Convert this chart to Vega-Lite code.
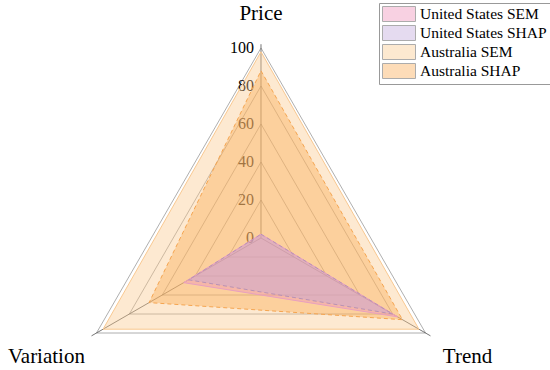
{
  "$schema": "https://vega.github.io/schema/vega-lite/v6.json",
  "width": 550,
  "height": 370,
  "autosize": {"type": "none"},
  "padding": 0,
  "config": {"view": {"stroke": null}, "font": "Liberation Serif"},
  "datasets": {
    "series": [
      {"series": "Australia SEM", "axis": "Price", "idx": 0, "value": 98},
      {"series": "Australia SEM", "axis": "Trend", "idx": 1, "value": 96},
      {"series": "Australia SEM", "axis": "Variation", "idx": 2, "value": 96},
      {"series": "Australia SHAP", "axis": "Price", "idx": 0, "value": 88},
      {"series": "Australia SHAP", "axis": "Trend", "idx": 1, "value": 86},
      {"series": "Australia SHAP", "axis": "Variation", "idx": 2, "value": 68},
      {"series": "United States SEM", "axis": "Price", "idx": 0, "value": 2},
      {"series": "United States SEM", "axis": "Trend", "idx": 1, "value": 83},
      {"series": "United States SEM", "axis": "Variation", "idx": 2, "value": 47},
      {"series": "United States SHAP", "axis": "Price", "idx": 0, "value": 2},
      {"series": "United States SHAP", "axis": "Trend", "idx": 1, "value": 80},
      {"series": "United States SHAP", "axis": "Variation", "idx": 2, "value": 44}
    ],
    "grid": [
      {"level": 20, "idx": 0}, {"level": 20, "idx": 1}, {"level": 20, "idx": 2},
      {"level": 40, "idx": 0}, {"level": 40, "idx": 1}, {"level": 40, "idx": 2},
      {"level": 60, "idx": 0}, {"level": 60, "idx": 1}, {"level": 60, "idx": 2},
      {"level": 80, "idx": 0}, {"level": 80, "idx": 1}, {"level": 80, "idx": 2},
      {"level": 100, "idx": 0}, {"level": 100, "idx": 1}, {"level": 100, "idx": 2}
    ],
    "axes": [
      {"axis": "Price", "idx": 0, "end": 102},
      {"axis": "Trend", "idx": 1, "end": 103},
      {"axis": "Variation", "idx": 2, "end": 103}
    ],
    "ticks": [
      {"tick": 0}, {"tick": 20}, {"tick": 40}, {"tick": 60}, {"tick": 80}, {"tick": 100}
    ]
  },
  "encoding": {
    "x": {"field": "px", "type": "quantitative", "scale": {"domain": [-137.37, 152.11], "nice": false, "zero": false}, "axis": null},
    "y": {"field": "py", "type": "quantitative", "scale": {"domain": [-69.47, 125.26], "nice": false, "zero": false}, "axis": null}
  },
  "layer": [
    {
      "data": {"name": "grid"},
      "transform": [
        {"calculate": "PI/2 - datum.idx*2*PI/3", "as": "ang"},
        {"calculate": "datum.level*cos(datum.ang)", "as": "px"},
        {"calculate": "datum.level*sin(datum.ang)", "as": "py"}
      ],
      "mark": {"type": "line", "interpolate": "linear-closed", "stroke": "#9a9a9a", "strokeWidth": 0.8},
      "encoding": {
        "detail": {"field": "level", "type": "nominal"},
        "order": {"field": "idx", "type": "quantitative"}
      }
    },
    {
      "data": {"name": "axes"},
      "transform": [
        {"calculate": "PI/2 - datum.idx*2*PI/3", "as": "ang"},
        {"calculate": "0", "as": "px"},
        {"calculate": "0", "as": "py"},
        {"calculate": "datum.end*cos(datum.ang)", "as": "px2"},
        {"calculate": "datum.end*sin(datum.ang)", "as": "py2"}
      ],
      "mark": {"type": "rule", "stroke": "#666", "strokeWidth": 0.9},
      "encoding": {
        "x2": {"field": "px2"},
        "y2": {"field": "py2"}
      }
    },
    {
      "data": {"name": "ticks"},
      "transform": [
        {"calculate": "0", "as": "px"},
        {"calculate": "datum.tick", "as": "py"}
      ],
      "mark": {"type": "text", "align": "right", "baseline": "middle", "dx": -7, "fontSize": 16, "font": "Liberation Serif", "color": "black"},
      "encoding": {
        "text": {"field": "tick", "type": "quantitative"}
      }
    },
    {
      "data": {"name": "series"},
      "transform": [
        {"calculate": "PI/2 - datum.idx*2*PI/3", "as": "ang"},
        {"calculate": "datum.value*cos(datum.ang)", "as": "px"},
        {"calculate": "datum.value*sin(datum.ang)", "as": "py"}
      ],
      "mark": {"type": "line", "interpolate": "linear-closed", "fillOpacity": 0.4, "strokeOpacity": 0},
      "encoding": {
        "fill": {
          "field": "series", "type": "nominal",
          "scale": {"domain": ["United States SEM", "United States SHAP", "Australia SEM", "Australia SHAP"], "range": ["#ee8fb8", "#c0a8da", "#fbc98c", "#fba94f"]},
          "legend": {
            "orient": "none", "legendX": 379, "legendY": 3, "title": null,
            "labelFont": "Liberation Serif", "labelFontSize": 15.5, "labelColor": "black", "labelLimit": 200,
            "symbolType": "M-1,-1H3.4V1H-1Z", "symbolSize": 225, "labelOffset": 22,
            "symbolOpacity": 0.4, "symbolStrokeColor": "#333", "symbolStrokeWidth": 1,
            "strokeColor": "#999", "fillColor": "white", "padding": 3, "rowPadding": -1
          }
        },
        "order": {"field": "idx", "type": "quantitative"}
      }
    },
    {
      "data": {"name": "series"},
      "transform": [
        {"filter": "datum.series === 'Australia SEM'"},
        {"calculate": "PI/2 - datum.idx*2*PI/3", "as": "ang"},
        {"calculate": "datum.value*cos(datum.ang)", "as": "px"},
        {"calculate": "datum.value*sin(datum.ang)", "as": "py"}
      ],
      "mark": {"type": "line", "interpolate": "linear-closed", "strokeWidth": 1, "stroke": "#f9c890"},
      "encoding": {"order": {"field": "idx", "type": "quantitative"}}
    },
    {
      "data": {"name": "series"},
      "transform": [
        {"filter": "datum.series === 'Australia SHAP'"},
        {"calculate": "PI/2 - datum.idx*2*PI/3", "as": "ang"},
        {"calculate": "datum.value*cos(datum.ang)", "as": "px"},
        {"calculate": "datum.value*sin(datum.ang)", "as": "py"}
      ],
      "mark": {"type": "line", "interpolate": "linear-closed", "strokeWidth": 1, "stroke": "#f5a550", "strokeDash": [4, 3]},
      "encoding": {"order": {"field": "idx", "type": "quantitative"}}
    },
    {
      "data": {"name": "series"},
      "transform": [
        {"filter": "datum.series === 'United States SEM'"},
        {"calculate": "PI/2 - datum.idx*2*PI/3", "as": "ang"},
        {"calculate": "datum.value*cos(datum.ang)", "as": "px"},
        {"calculate": "datum.value*sin(datum.ang)", "as": "py"}
      ],
      "mark": {"type": "line", "interpolate": "linear-closed", "strokeWidth": 1, "stroke": "#e8a0c0"},
      "encoding": {"order": {"field": "idx", "type": "quantitative"}}
    },
    {
      "data": {"name": "series"},
      "transform": [
        {"filter": "datum.series === 'United States SHAP'"},
        {"calculate": "PI/2 - datum.idx*2*PI/3", "as": "ang"},
        {"calculate": "datum.value*cos(datum.ang)", "as": "px"},
        {"calculate": "datum.value*sin(datum.ang)", "as": "py"}
      ],
      "mark": {"type": "line", "interpolate": "linear-closed", "strokeWidth": 1, "stroke": "#b892b5", "strokeDash": [4, 3]},
      "encoding": {"order": {"field": "idx", "type": "quantitative"}}
    },
    {
      "data": {"values": [{"axis": "Price", "px": 0, "py": 100}]},
      "mark": {"type": "text", "align": "center", "baseline": "middle", "dy": -34, "fontSize": 21, "font": "Liberation Serif", "color": "black"},
      "encoding": {"text": {"field": "axis"}}
    },
    {
      "data": {"values": [{"axis": "Variation", "idx": 2}]},
      "transform": [
        {"calculate": "PI/2 - datum.idx*2*PI/3", "as": "ang"},
        {"calculate": "100*cos(datum.ang)", "as": "px"},
        {"calculate": "100*sin(datum.ang)", "as": "py"}
      ],
      "mark": {"type": "text", "align": "center", "baseline": "middle", "dx": -50, "dy": 24, "fontSize": 21, "font": "Liberation Serif", "color": "black"},
      "encoding": {"text": {"field": "axis"}}
    },
    {
      "data": {"values": [{"axis": "Trend", "idx": 1}]},
      "transform": [
        {"calculate": "PI/2 - datum.idx*2*PI/3", "as": "ang"},
        {"calculate": "100*cos(datum.ang)", "as": "px"},
        {"calculate": "100*sin(datum.ang)", "as": "py"}
      ],
      "mark": {"type": "text", "align": "center", "baseline": "middle", "dx": 42, "dy": 24, "fontSize": 21, "font": "Liberation Serif", "color": "black"},
      "encoding": {"text": {"field": "axis"}}
    }
  ]
}
